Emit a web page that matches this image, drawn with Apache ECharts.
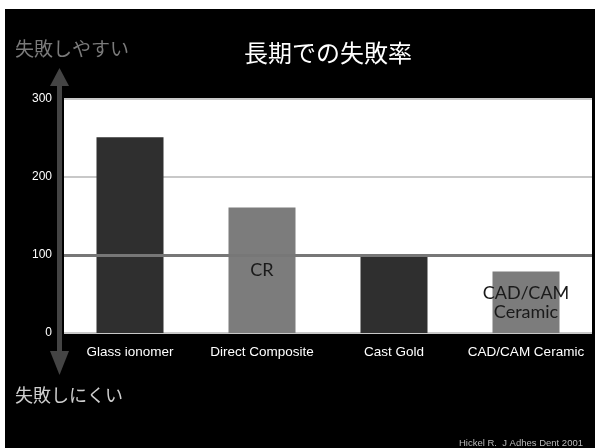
<!DOCTYPE html>
<html><head><meta charset="utf-8">
<script src="https://cdn.jsdelivr.net/npm/echarts@6/dist/echarts.min.js"></script>
<style>html,body{margin:0;padding:0;background:#fff}#c{width:595px;height:448px}</style>
</head><body><div id="c"></div>
<script>
const categories = ['Glass ionomer', 'Direct Composite', 'Cast Gold', 'CAD/CAM Ceramic'];
const values = [251, 161, 98, 79];
const barColors = ['#2f2f2f', '#7c7c7c', '#2f2f2f', '#7c7c7c'];
const barLabels = ['', 'CR', '', 'CAD/CAM\nCeramic'];
const yTicks = [0, 100, 200, 300];
const refValue = 100;

const chart = echarts.init(document.getElementById('c'));
chart.setOption({
  backgroundColor: '#000',
  animation: false,
  graphic: [
    {type:'rect', shape:{x:0,y:0,width:595,height:9}, style:{fill:'#fff'}, z:100},
    {type:'rect', shape:{x:0,y:0,width:5,height:448}, style:{fill:'#fff'}, z:100},
    {type:'rect', shape:{x:57,y:82,width:5,height:272}, style:{fill:'#444'}, z:1},
    {type:'polygon', shape:{points:[[59.5,68],[50,86],[69,86]]}, style:{fill:'#444'}, z:1},
    {type:'polygon', shape:{points:[[59.5,375],[50,351],[69,351]]}, style:{fill:'#444'}, z:1},
    {type:'text', left:15, top:39, style:{text:'失敗しやすい', fill:'#7a7a7a', font:'19px "Noto Sans CJK JP"'}},
    {type:'text', left:15, top:386, style:{text:'失敗しにくい', fill:'#cfcfcf', font:'18px "Noto Sans CJK JP"'}},
    {type:'text', right:12, top:438, style:{text:'Hickel R.  J Adhes Dent 2001', fill:'#bbb', font:'9.5px "Liberation Sans"'}}
  ],
  title: {
    text: '長期での失敗率', left: 323, textAlign: 'center', top: 36,
    textStyle: {color:'#fff', fontSize:24, fontWeight:'normal', fontFamily:'"Noto Sans CJK JP"'}
  },
  grid: {left:64, right:3, top:99, bottom:115},
  xAxis: {
    type:'category', data: categories,
    axisLine:{show:false}, axisTick:{show:false},
    axisLabel:{color:'#fff', fontSize:13.5, fontFamily:'"Liberation Sans"', margin:12, interval:0, hideOverlap:false}
  },
  yAxis: {
    type:'value', min:0, max:300, interval:100,
    axisLine:{show:false}, axisTick:{show:false},
    axisLabel:{color:'#fff', fontSize:12, fontFamily:'"Liberation Sans"', margin:12,
      formatter: v => yTicks.includes(v) ? String(v) : ''},
    splitLine:{show:true, lineStyle:{color:'#c8c8c8', width:2}}
  },
  series: [{
    type:'bar', barWidth:67,
    data: values.map((v,i)=>({value:v, itemStyle:{color:barColors[i]},
      label:{show: !!barLabels[i], formatter: barLabels[i]}})),
    label:{position:'inside', color:'#1a1a1a', fontSize:18, lineHeight:19, fontFamily:'Lato'},
    markLine:{
      silent:true, symbol:'none', label:{show:false},
      lineStyle:{color:'#777', width:3, type:'solid'},
      data:[{yAxis: refValue}]
    }
  }]
});
const rect = chart.getModel().getComponent('grid').coordinateSystem.getRect();
chart.setOption({graphic: chart.getOption().graphic[0].elements.concat([
  {type:'rect', shape:{x:rect.x,y:rect.y,width:rect.width,height:rect.height}, style:{fill:'#fff'}, z:-10}
])});
</script></body></html>
